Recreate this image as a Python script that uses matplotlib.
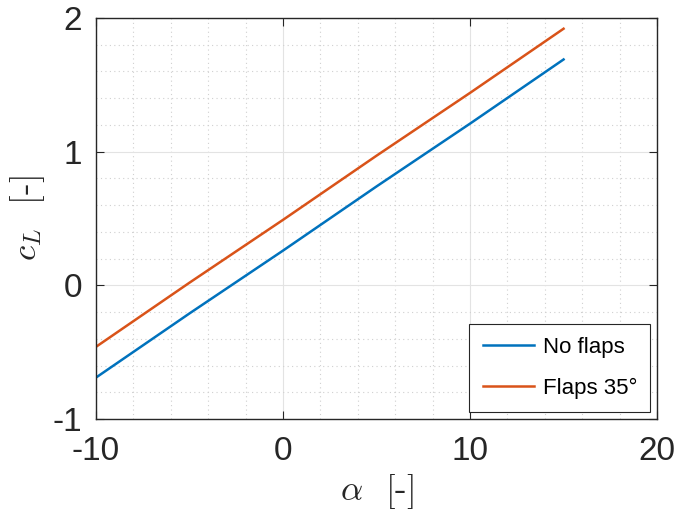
import matplotlib
matplotlib.use("Agg")
import matplotlib.pyplot as plt
from matplotlib.ticker import MultipleLocator, FuncFormatter

plt.rcParams['font.family'] = ['Liberation Sans', 'DejaVu Sans']
plt.rcParams['mathtext.fontset'] = 'cm'

alpha = [-10, -5, 0, 5, 10, 15]
cl_no_flaps = [-0.69, -0.21, 0.26, 0.74, 1.21, 1.69]
cl_flaps35 = [-0.46, 0.02, 0.49, 0.97, 1.44, 1.92]
labels = ['No flaps', 'Flaps 35°']

fig = plt.figure(figsize=(6.76, 5.15), dpi=100)
ax = fig.add_axes([0.142, 0.1864, 0.830, 0.7786])

ax.plot(alpha, cl_no_flaps, color='#0072BD', lw=1.8, label=labels[0])
ax.plot(alpha, cl_flaps35, color='#D95319', lw=1.8, label=labels[1])

ax.set_xlim(-10, 20)
ax.set_ylim(-1, 2)
ax.xaxis.set_major_locator(MultipleLocator(10))
ax.yaxis.set_major_locator(MultipleLocator(1))
ax.xaxis.set_minor_locator(MultipleLocator(2))
ax.yaxis.set_minor_locator(MultipleLocator(0.2))

ax.grid(True, which='major', color='#e3e3e3', lw=0.8, ls='-')
ax.grid(True, which='minor', color='#d0d0d0', lw=0.8, ls=(0, (1, 3)))
ax.set_axisbelow(True)

ax.tick_params(which='both', direction='in', top=True, right=True,
               colors='#262626', labelsize=24, width=0.8)
ax.tick_params(which='major', length=6)
ax.tick_params(which='minor', length=0)
ax.tick_params(axis='x', pad=12)
ax.tick_params(axis='y', pad=10)
for s in ax.spines.values():
    s.set_color('#262626')
    s.set_linewidth(1.0)

ax.xaxis.set_major_formatter(FuncFormatter(lambda v, p: '%d' % v))
ax.yaxis.set_major_formatter(FuncFormatter(lambda v, p: '%d' % v))

ax.set_xlabel(r'$\alpha$  [-]', fontsize=25, color='#262626', labelpad=4,
              family=['cmr10', 'DejaVu Sans'])
ax.set_ylabel(r'$c_L$  [-]', fontsize=25, color='#262626', labelpad=4,
              family=['cmr10', 'DejaVu Sans'])

leg = ax.legend(loc='lower right', fontsize=16, fancybox=False, framealpha=1,
                edgecolor='#262626', handlelength=2.3, borderaxespad=0.3,
                labelspacing=0.9, handletextpad=0.4, borderpad=0.6)
leg.get_frame().set_linewidth(0.8)

fig.savefig('out.png', dpi=100)
